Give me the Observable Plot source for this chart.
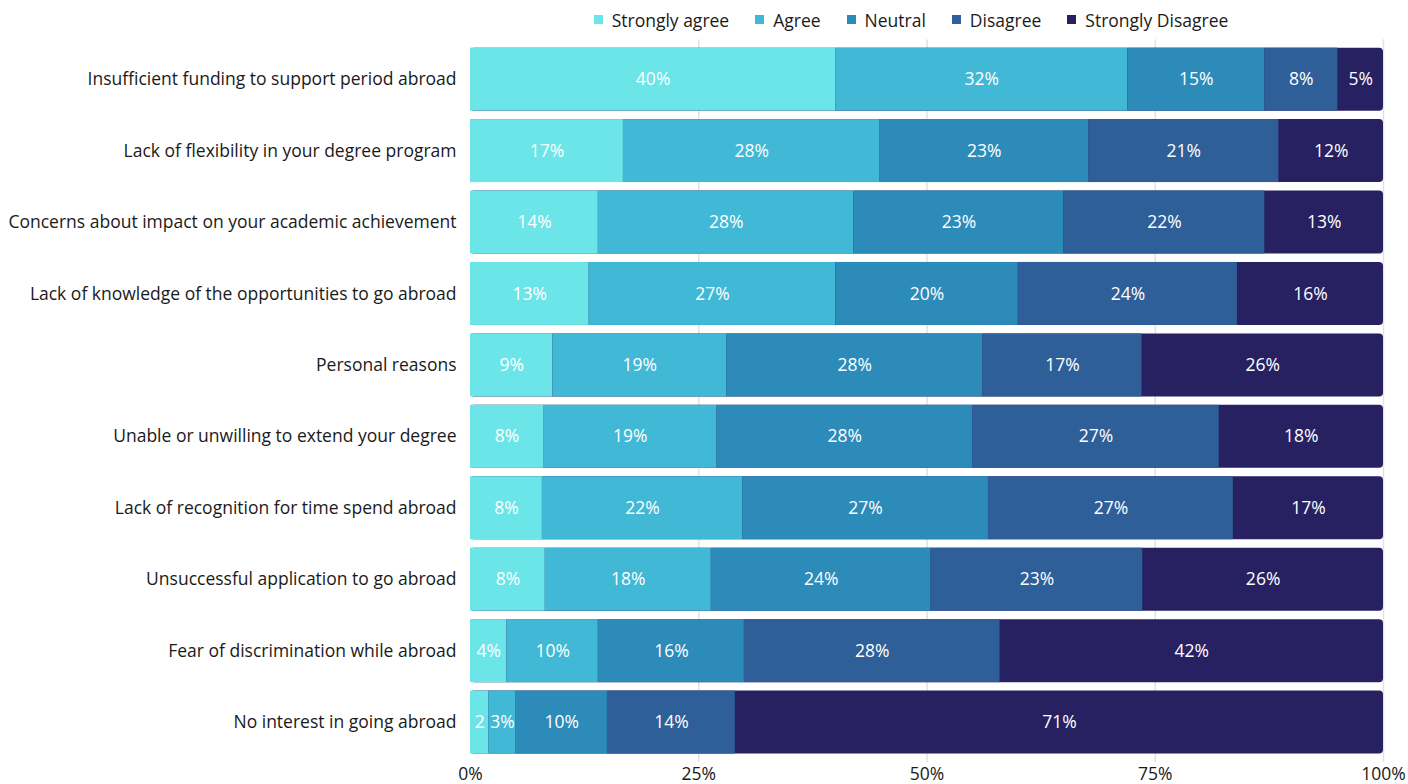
<!DOCTYPE html>
<html>
<head>
<meta charset="utf-8">
<script src="https://cdn.jsdelivr.net/npm/d3@7"></script>
<script src="https://cdn.jsdelivr.net/npm/@observablehq/plot@0.6"></script>
<style>
  html, body { margin: 0; padding: 0; background: #fff; }
  body { width: 1408px; height: 784px; overflow: hidden; font-family: "Open Sans", sans-serif; }
  #legend { height: 30px; display: flex; justify-content: center; align-items: center; padding-left: 440px; box-sizing: border-box; padding-top: 9px; }
  .item { display: flex; align-items: center; font-size: 17.5px; color: #1a1a1a; margin-right: 26px; }
  .sw { width: 9px; height: 9px; margin-right: 9px; }
  #chart svg { display: block; }
</style>
</head>
<body>
<div id="legend"></div>
<div id="chart"></div>
<script>
const categories = [
  "Insufficient funding to support period abroad",
  "Lack of flexibility in your degree program",
  "Concerns about impact on your academic achievement",
  "Lack of knowledge of the opportunities to go abroad",
  "Personal reasons",
  "Unable or unwilling to extend your degree",
  "Lack of recognition for time spend abroad",
  "Unsuccessful application to go abroad",
  "Fear of discrimination while abroad",
  "No interest in going abroad"
];
const responses = ["Strongly agree", "Agree", "Neutral", "Disagree", "Strongly Disagree"];
const colors = ["#6ce5e8", "#41b8d5", "#2d8bba", "#2f5f98", "#272161"];
const stronglyAgree    = [40, 16.8, 14, 13,  9.0,  8,  7.9,  8.2,  4,  2];
const agree            = [32, 28.2, 28, 27, 19.0, 19, 22.0, 18.2, 10,  3];
const neutral          = [15, 22.9, 23, 20, 28.0, 28, 27.0, 24.1, 16, 10];
const disagree         = [ 8, 20.9, 22, 24, 17.4, 27, 26.9, 23.2, 28, 14];
const stronglyDisagree = [ 5, 11.5, 13, 16, 26.4, 18, 16.5, 26.4, 42, 71];
const xTicks = [0, 0.25, 0.5, 0.75, 1];
const gridTicks = [0.25, 0.5, 0.75, 1];

const series = [stronglyAgree, agree, neutral, disagree, stronglyDisagree];
const rows = [];
categories.forEach((c, i) => {
  responses.forEach((r, j) => {
    rows.push({category: c, response: r, value: series[j][i]});
  });
});

// legend
const legend = document.getElementById("legend");
responses.forEach((r, j) => {
  const it = document.createElement("div");
  it.className = "item";
  it.innerHTML = `<span class="sw" style="background:${colors[j]}"></span><span>${r}</span>`;
  legend.appendChild(it);
});

const stackOpts = {x: "value", y: "category", z: "response", order: responses, offset: "normalize"};
const pct = d => Math.round(d * 100) + "%";

const chart = Plot.plot({
  width: 1408,
  height: 754,
  marginLeft: 470,
  marginRight: 25,
  marginTop: 9.2,
  marginBottom: 22,
  style: {fontFamily: "Open Sans, sans-serif", fontSize: "17.5px", color: "#1a1a1a", background: "#fff"},
  x: {domain: [0, 1], label: null},
  y: {domain: categories, padding: 0.118, round: false, label: null},
  color: {domain: responses, range: colors},
  marks: [
    Plot.ruleX(gridTicks, {stroke: "#e2e2e2", strokeWidth: 1.5}),
    Plot.barX(categories, {x1: 0, x2: 1, y: d => d, fill: colors[4], rx: 4}),
    Plot.barX(rows, Plot.stackX({
      ...stackOpts,
      fill: "response",
      fillOpacity: d => d.response === "Strongly Disagree" ? 0 : 1
    })),
    Plot.text(rows, Plot.stackX({
      ...stackOpts,
      text: d => d.value < 3 ? String(Math.round(d.value)) : Math.round(d.value) + "%",
      fill: "white",
      fontSize: 17.5
    })),
    Plot.axisX({ticks: xTicks, tickFormat: pct, tickSize: 0, tickPadding: 5, label: null, fontSize: 17.5}),
    Plot.axisY({tickSize: 0, tickPadding: 14, label: null, fontSize: 17.5})
  ]
});
document.getElementById("chart").appendChild(chart);
</script>
</body>
</html>
